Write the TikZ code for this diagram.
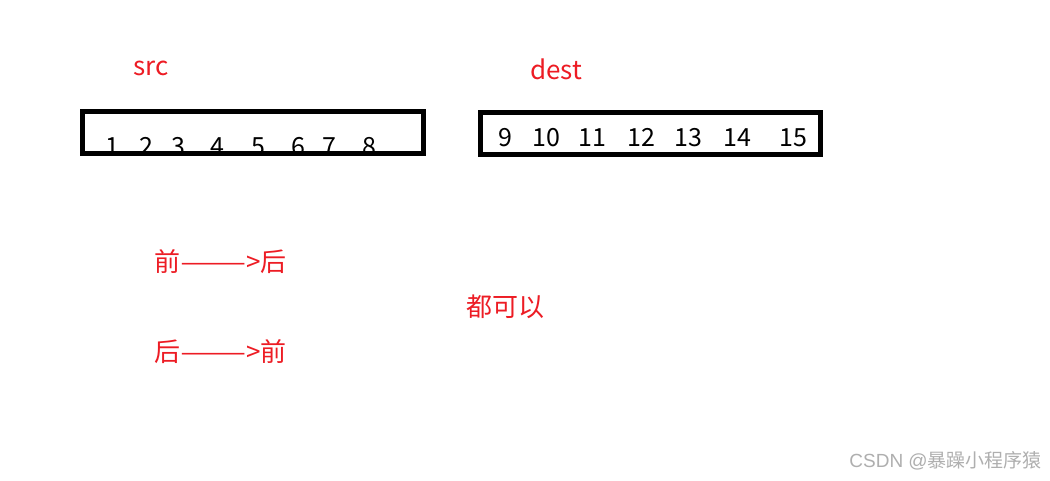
\documentclass[tikz,border=0pt]{standalone}
\usepackage{fontspec}
\usepackage{graphicx}
\setmainfont{Noto Sans CJK SC}
\newfontfamily\wmlatin{Liberation Sans}
\definecolor{pred}{RGB}{237,28,36}
\definecolor{wm}{RGB}{175,175,175}
\newcommand{\longdash}{\scalebox{1.52}[1]{——}}
\tikzset{
  num/.style={inner sep=0pt, anchor=base, font=\fontsize{25}{30}\selectfont},
  lbl/.style={inner sep=0pt, anchor=base, text=pred, font=\fontsize{26}{30}\selectfont},
  cn/.style={inner sep=0pt, anchor=west, text=pred, font=\fontsize{26}{30}\selectfont},
  arr/.style={draw=black, line width=5pt},
}
\begin{document}
\begin{tikzpicture}[x=1pt,y=-1pt]
\useasboundingbox (0,0) rectangle (1050,480);
\fill[white] (0,0) rectangle (1050,480);
% labels
\node[lbl] (src) at (151,75) {src};
\node[lbl] (dest) at (556,79) {dest};
% box 1 digits clipped
\begin{scope}
\clip (85,114) rectangle (421,151);
\foreach \x/\d [count=\i] in {112/1,146/2,178/3,217/4,258/5,298/6,329/7,369/8}
  \node[num] (s\i) at (\x,155) {\d};
\end{scope}
\node[arr, rectangle, minimum width=341pt, minimum height=42pt, inner sep=0pt] (box1) at (253,132.5) {};
% box 2 digits
\foreach \x/\d [count=\i] in {505/9,546/10,592/11,641/12,688/13,737/14,793/15}
  \node[num] (d\i) at (\x,146.5) {\d};
\node[arr, rectangle, minimum width=340pt, minimum height=42pt, inner sep=0pt] (box2) at (650,133) {};
\fill[white] (517,151) rectangle (560,152);
% chinese lines
\node[cn] (l1) at (154,262) {前\longdash>后};
\node[cn] (l2) at (154,352) {后\longdash>前};
\node[cn] (l3) at (466,307) {都可以};
% watermark
\node[inner sep=0pt, anchor=east, text=wm, font=\fontsize{19}{22}\selectfont] (wm) at (1042,461) {{\wmlatin CSDN @}暴躁小程序猿};
\end{tikzpicture}
\end{document}
